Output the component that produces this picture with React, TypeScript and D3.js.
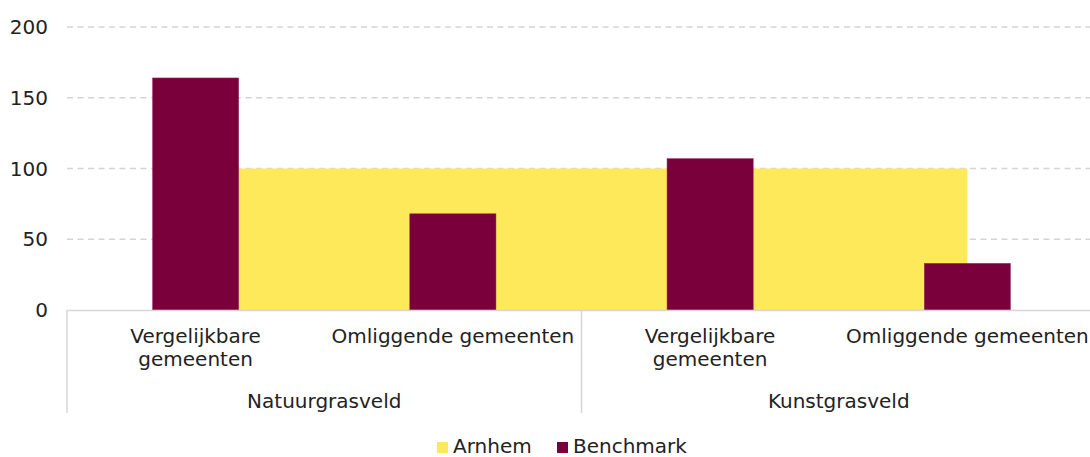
import React from 'react';
import * as d3 from 'd3';

// data
const categories = ['Vergelijkbare gemeenten', 'Omliggende gemeenten', 'Vergelijkbare gemeenten', 'Omliggende gemeenten'];
const categoryLines = [['Vergelijkbare', 'gemeenten'], ['Omliggende gemeenten'], ['Vergelijkbare', 'gemeenten'], ['Omliggende gemeenten']];
const groups = ['Natuurgrasveld', 'Kunstgrasveld'];
const arnhem = [100, 100, 100, 100];
const benchmark = [164, 68, 107, 33];
const yTicks = [0, 50, 100, 150, 200];

const W = 1090, H = 457;
const margin = {top: 27, right: -6, bottom: 147, left: 67};
const FONT = '"DejaVu Sans", Verdana, sans-serif';
const YELLOW = '#fde95a';
const PURPLE = '#7a003c';

export default function App() {
    const idx = categories.map((_, i) => i);
    const x = d3.scaleBand<number>()
        .domain(idx)
        .range([margin.left, W - margin.right]);
    const y = d3.scaleLinear()
        .domain([0, 200])
        .range([H - margin.bottom, margin.top]);

    const bw = x.bandwidth() * 0.335;
    const center = (i: number) => (x(i) as number) + x.bandwidth() / 2;

    const area = d3.area<number>()
        .x((d, i) => center(i))
        .y0(y(0))
        .y1(d => y(d));

    const y0 = y(0);
    const groupBottom = 413;

    return (
        <svg width={W} height={H} style={{position: 'absolute', left: 0, top: 0}} fontFamily={FONT}>
            {/* grid */}
            {yTicks.filter(t => t > 0).map(t => (
                <line key={t} x1={margin.left} x2={W} y1={y(t)} y2={y(t)}
                      stroke="#d4d4d4" strokeWidth={1.5} strokeDasharray="6,4.5"/>
            ))}
            {/* y labels */}
            {yTicks.map(t => (
                <text key={t} x={48} y={y(t)} dy="0.36em" textAnchor="end" fontSize={20} fill="#222">{t}</text>
            ))}

            {/* Arnhem as area */}
            <path d={area(arnhem) as string} fill={YELLOW}/>

            {/* Benchmark bars */}
            {benchmark.map((v, i) => (
                <rect key={i} x={center(i) - bw / 2} y={y(v)} width={bw} height={y0 - y(v)}
                      fill={PURPLE} stroke="#a0306a" strokeWidth={0.5}/>
            ))}

            {/* x axis */}
            <line x1={margin.left} x2={W} y1={y0 + 0.5} y2={y0 + 0.5} stroke="#d6d6d6" strokeWidth={1.5}/>
            {[0, 2].map(k => {
                const xx = x(k) as number;
                return <line key={k} x1={xx} x2={xx} y1={y0} y2={groupBottom} stroke="#d6d6d6" strokeWidth={1.5}/>;
            })}

            {/* category labels */}
            {categoryLines.map((lines, i) => (
                <text key={i} textAnchor="middle" fontSize={20} fill="#222">
                    {lines.map((l, j) => (
                        <tspan key={j} x={center(i)} y={343 + j * 23}>{l}</tspan>
                    ))}
                </text>
            ))}

            {/* group labels */}
            {groups.map((g, k) => {
                const a = x(k * 2) as number;
                const b = (x(k * 2 + 1) as number) + x.bandwidth();
                return <text key={g} x={(a + b) / 2} y={408} textAnchor="middle" fontSize={20} fill="#222">{g}</text>;
            })}

            {/* legend */}
            <rect x={437} y={442} width={11} height={11} fill={YELLOW}/>
            <text x={453} y={453} fontSize={20} fill="#222">Arnhem</text>
            <rect x={557} y={442} width={11} height={11} fill={PURPLE}/>
            <text x={573} y={453} fontSize={20} fill="#222">Benchmark</text>
        </svg>
    );
}
